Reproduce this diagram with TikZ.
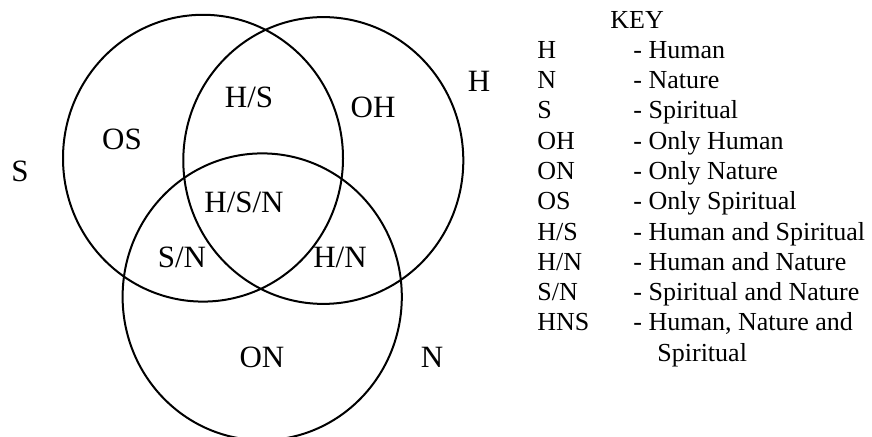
\documentclass[tikz,border=0pt]{standalone}
\usepackage{fontspec}
\setmainfont{Liberation Serif}
\begin{document}
\begin{tikzpicture}[x=0.5pt,y=-0.5pt,
  ring/.style={draw=black,line width=1pt},
  lab/.style={inner sep=0pt,anchor=base,font=\fontsize{15.5}{18}\selectfont},
  keytxt/.style={inner sep=0pt,anchor=base west,font=\fontsize{13}{15}\selectfont}]
\useasboundingbox (0,0) rectangle (872,437);
\begin{scope}
\clip (0,0) rectangle (872,437);
\draw[ring] (203,158.2) ellipse [x radius=70pt, y radius=71.7pt];
\draw[ring] (323.3,160.5) ellipse [x radius=70pt, y radius=71.7pt];
\draw[ring] (262.2,296.8) ellipse [x radius=69.8pt, y radius=71.7pt];
\end{scope}
% circle names
\node[lab] (lS) at (20,182) {S};
\node[lab] (lH) at (479,92) {H};
\node[lab] (lN) at (432,368) {N};
% regions
\node[lab] (os) at (122,150) {OS};
\node[lab] (hs) at (249,108) {H/S};
\node[lab] (oh) at (373,118) {OH};
\node[lab] (hsn) at (244,213) {H/S/N};
\node[lab] (sn) at (182,268) {S/N};
\node[lab] (hn) at (340,268) {H/N};
\node[lab] (on) at (262,368) {ON};
% key
\node[keytxt] (key) at (610,28.3) {KEY};
\foreach \i/\a/\b in {0/H/Human,1/N/Nature,2/S/Spiritual,3/OH/Only Human,4/ON/Only Nature,5/OS/Only Spiritual,6/H\slash S/Human and Spiritual,7/H\slash N/Human and Nature,8/S\slash N/Spiritual and Nature,9/HNS/{Human, Nature and}}{
  \node[keytxt] (ka\i) at (537,58.3+30.3*\i) {\a};
  \node[keytxt] (kb\i) at (633,58.3+30.3*\i) {- \b};
}
\node[keytxt] (kb10) at (657,361.3) {Spiritual};
\end{tikzpicture}
\end{document}
